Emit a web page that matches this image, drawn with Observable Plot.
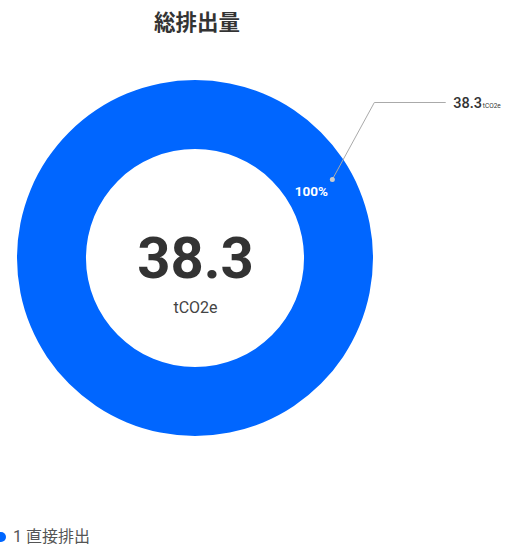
<!DOCTYPE html>
<html><head><meta charset="utf-8">
<script src="https://cdn.jsdelivr.net/npm/d3@7"></script>
<script src="https://cdn.jsdelivr.net/npm/@observablehq/plot@0.6"></script>
<style>
body{margin:0;background:#fff;font-family:Roboto,"Noto Sans CJK JP",sans-serif;}
#wrap{position:relative;width:521px;height:547px;overflow:hidden;}
#title{position:absolute;left:2px;width:390px;top:8px;text-align:center;font-weight:bold;font-size:21.5px;line-height:26px;color:#333;font-family:"Noto Sans CJK JP",sans-serif;}
#legend{position:absolute;left:-4px;top:527px;font-size:16px;line-height:20px;color:#555;display:flex;align-items:center;font-family:Roboto,"Noto Sans CJK JP",sans-serif;}
#legend span.sw{display:inline-block;width:10px;height:10px;border-radius:50%;background:#0066ff;margin-right:7px;}
#chart{position:absolute;left:0;top:0;}
</style></head>
<body><div id="wrap"><div id="title"></div><div id="chart"></div><div id="legend"></div></div>
<script>
const title = "総排出量";
const categories = ["1 直接排出"];
const values = [38.3];
const unit = "tCO2e";
const colors = ["#0066ff"];
const totalLabel = "38.3";

const total = d3.sum(values);
const data = categories.map((c, i) => ({category: c, value: values[i], pct: values[i] / total}));

document.getElementById("title").textContent = title;
document.getElementById("legend").innerHTML = categories.map((c,i)=>`<span class="sw" style="background:${colors[i]}"></span><span>${c}</span>`).join("");

const cx = 195, cy = 258, R = 178, r0 = 109;
const labelAngle = 60 * Math.PI / 180;

const pie = d3.pie().value(d => d.value).sort(null);
const arcs = pie(data);

function donut(index, scales) {
  const x = scales.x, y = scales.y;
  const ox = x(0), oy = y(0);
  const rad = x(1) - x(0), inner = rad * r0 / R;
  const arc = d3.arc().innerRadius(inner).outerRadius(rad);
  const g = d3.create("svg:g").attr("transform", `translate(${ox},${oy})`);
  g.selectAll("path").data(arcs).join("path")
    .attr("d", arc).attr("fill", (d, i) => colors[i]);
  return g.node();
}

const ringMid = (r0 + (R - r0) * 0.36) / R;
const dotR = 158 / R;
const lab = arcs.map((a, i) => {
  const ang = arcs.length === 1 ? labelAngle : (a.startAngle + a.endAngle) / 2;
  return {
    pct: d3.format(".0%")(data[i].pct),
    value: data[i].value,
    lx: Math.sin(ang) * ringMid, ly: Math.cos(ang) * ringMid,
    dx: Math.sin(ang) * dotR, dy: Math.cos(ang) * dotR,
    bx: Math.sin(ang) * dotR + 42 / R, by: Math.cos(ang) * dotR + 77 / R,
    ex: Math.sin(ang) * dotR + 113 / R
  };
});

const chart = Plot.plot({
  width: 521, height: 547,
  margin: 0,
  x: {domain: [-1, 1], range: [cx - R, cx + R], axis: null},
  y: {domain: [-1, 1], range: [cy + R, cy - R], axis: null},
  style: {fontFamily: 'Roboto, "Noto Sans CJK JP", sans-serif', background: "transparent"},
  marks: [
    donut,
    Plot.line(lab.flatMap(d => [{x: d.dx, y: d.dy}, {x: d.bx, y: d.by}, {x: d.ex, y: d.by}]), {x: "x", y: "y", stroke: "#aaa", strokeWidth: 1}),
    Plot.dot(lab, {x: "dx", y: "dy", r: 2.5, fill: "#ccc", stroke: "none"}),
    Plot.text(lab, {x: "lx", y: "ly", text: "pct", fill: "white", fontWeight: "bold", fontSize: 13.5}),
    Plot.text(lab, {x: "ex", y: "by", text: d => d.value.toFixed(1), textAnchor: "start", dx: 8, dy: 1, fill: "#333", fontSize: 14.5, fontWeight: "500"}),
    Plot.text(lab, {x: "ex", y: "by", text: () => unit, textAnchor: "start", dx: 37.5, dy: 3, fill: "#333", fontSize: 6.5}),
    Plot.text([{x: 0, y: 0}], {x: "x", y: "y", text: () => totalLabel, dy: 1, fill: "#333", fontSize: 58, fontWeight: "bold"}),
    Plot.text([{x: 0, y: 0}], {x: "x", y: "y", text: () => unit, dy: 49, fill: "#444", fontSize: 16})
  ]
});
document.getElementById("chart").appendChild(chart);
</script>
</body></html>
